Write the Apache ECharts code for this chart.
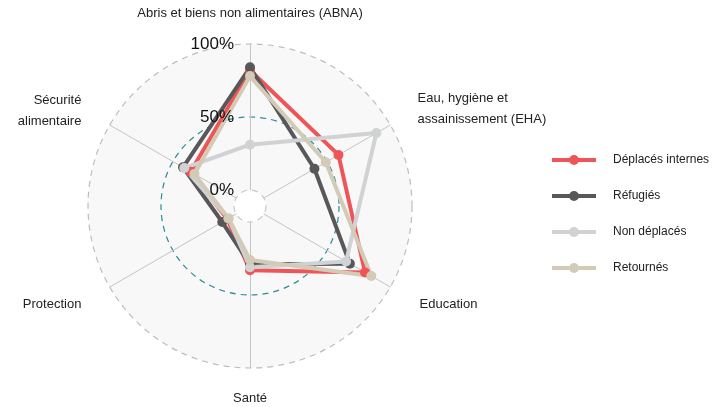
<!DOCTYPE html>
<html>
<head>
<meta charset="utf-8">
<script src="https://cdn.jsdelivr.net/npm/echarts@6/dist/echarts.min.js"></script>
<style>
  html, body { margin: 0; padding: 0; background: #fff; }
  #chart { width: 726px; height: 407px; }
</style>
</head>
<body>
<div id="chart"></div>
<script>
// axes, listed counter-clockwise from the top
var axes = [
  'Abris et biens non alimentaires (ABNA)',
  'Sécurité\nalimentaire',
  'Protection',
  'Santé',
  'Education',
  'Eau, hygiène et\nassainissement (EHA)'
];
var groups = ['Déplacés internes', 'Réfugiés', 'Non déplacés', 'Retournés'];
var colors = ['#ef5557', '#58585a', '#d1d2d4', '#d3cbb7'];

var deplacesInternes = [82, 36, 7, 33, 80, 59];
var refugies = [84, 42, 11, 29, 68, 40];
var nonDeplaces = [31, 41, 6, 31, 65, 89];
var retournes = [78, 33, 6, 26, 85, 49];
var values = [deplacesInternes, refugies, nonDeplaces, retournes];

var scaleTicks = [0, 50, 100];

var font = 'Liberation Sans, Arial, sans-serif';
var chart = echarts.init(document.getElementById('chart'));

// rich style per axis name, so each label sits where it does in the original
var nameStyle = ['top', 'ul', 'll', 'bot', 'lr', 'ur'];
function nameFmt(name, ind) {
  var i = axes.indexOf(name);
  var s = nameStyle[i];
  var lines = name.split('\n');
  if (lines.length === 1) return '{' + s + '|' + name + '}';
  return '{' + s + '|' + lines[0] + '}\n{' + s + '|' + lines[1] + '}\n{' + s + 'sp| }';
}
function rs(pad, h) {
  return { padding: pad, height: h, lineHeight: h, fontSize: 13, color: '#222', fontFamily: font };
}

var series = groups.map(function (g, i) {
  return {
    type: 'radar',
    name: g,
    symbol: 'circle',
    symbolSize: 10,
    itemStyle: { color: colors[i] },
    lineStyle: { color: colors[i], width: 4 },
    data: [{ name: g, value: values[i] }]
  };
});

chart.setOption({
  animation: false,
  legend: {
    orient: 'vertical',
    left: 552,
    top: 154,
    padding: 0,
    itemWidth: 44,
    itemHeight: 10,
    itemGap: 24,
    icon: 'path://M0,3L44,3L44,7L0,7Z M27,5A5,5,0,1,1,17,5A5,5,0,1,1,27,5Z',
    itemStyle: { borderWidth: 0 },
    textStyle: { fontSize: 12, color: '#222', fontFamily: font, padding: [0, 0, 0, 12] },
    data: groups
  },
  radar: {
    center: [250, 206],
    radius: [16, 162],
    startAngle: 90,
    shape: 'circle',
    splitNumber: 2,
    indicator: axes.map(function (a) { return { name: a, min: 0, max: 100 }; }),
    axisNameGap: 20,
    axisName: {
      color: '#222', fontSize: 13, lineHeight: 21, fontFamily: font,
      formatter: nameFmt,
      rich: {
        top: rs(0, 21),
        bot: rs(0, 21),
        ur: rs([0, 0, 0, 10], 21),
        ursp: rs(0, 12),
        ul: rs([0, 11, 0, 0], 21),
        ulsp: rs(0, 8),
        lr: rs([14, 0, 0, 12], 21),
        ll: rs([14, 11, 0, 0], 21)
      }
    },
    axisLine: { lineStyle: { color: '#c4c4c4', width: 1 } },
    splitLine: {
      lineStyle: { color: ['#c8c8c8', '#2a8c96', '#bdbdbd'], type: [6, 5], width: 1.2 }
    },
    splitArea: { show: true, areaStyle: { color: ['#f8f8f8', '#f8f8f8'] } }
  },
  polar: { center: [250, 206], radius: [16, 162] },
  angleAxis: { show: false, startAngle: 90, min: 0, max: 360 },
  radiusAxis: {
    z: 10,
    min: scaleTicks[0],
    max: scaleTicks[scaleTicks.length - 1],
    interval: 50,
    axisLine: { show: false },
    axisTick: { show: false },
    splitLine: { show: false },
    axisLabel: {
      formatter: '{value}%',
      fontSize: 17,
      color: '#111',
      fontFamily: font,
      margin: 16
    }
  },
  series: series
});
</script>
</body>
</html>
